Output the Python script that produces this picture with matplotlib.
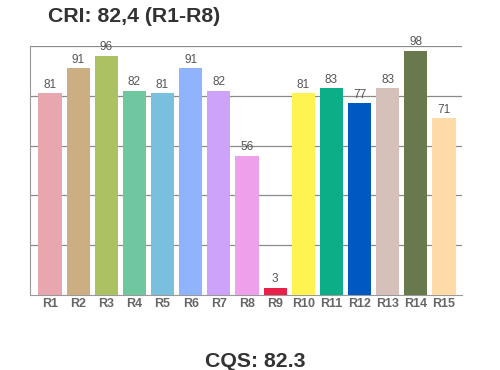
import matplotlib
matplotlib.use('Agg')
import matplotlib.pyplot as plt

labels = ['R1', 'R2', 'R3', 'R4', 'R5', 'R6', 'R7', 'R8',
          'R9', 'R10', 'R11', 'R12', 'R13', 'R14', 'R15']
values = [81, 91, 96, 82, 81, 91, 82, 56, 3, 81, 83, 77, 83, 98, 71]
colors = ['#E8A6AE', '#CBAF82', '#ABC162', '#6EC79F', '#7BBFDE',
          '#8FB3FC', '#CDA3F9', '#EFA0EB', '#E8204A', '#FEF350',
          '#0BAE86', '#0059C3', '#D5C0BA', '#69794E', '#FFDBA7']
cri_title = 'CRI: 82,4 (R1-R8)'
cqs_title = 'CQS: 82.3'

plt.rcParams['font.family'] = ['Liberation Sans', 'DejaVu Sans']

fig = plt.figure(figsize=(5, 3.7), dpi=100)
ax = fig.add_axes([0.06, 0.2027, 0.864, 0.673])

x = range(len(values))
ax.bar(x, values, width=0.82, color=colors, zorder=3)
for i, v in enumerate(values):
    ax.text(i, v + 1, str(v), ha='center', va='bottom', fontsize=8.5, color='#555555', zorder=4)

ax.set_ylim(0, 100)
ax.set_xlim(-0.71, 14.64)
ax.set_yticks([20, 40, 60, 80, 100])
ax.yaxis.grid(True, color='#8a8a8a', linewidth=0.9, zorder=0)
ax.tick_params(axis='y', left=False, labelleft=False)
ax.set_xticks(list(x))
ax.set_xticklabels(labels, fontsize=9, fontweight='bold', color='#666666')
ax.tick_params(axis='x', length=0, pad=2)
for s in ['top', 'right']:
    ax.spines[s].set_visible(False)
ax.spines['left'].set_color('#999999')
ax.spines['bottom'].set_color('#999999')

fig.text(48 / 500, 1 - 16 / 370, cri_title, fontsize=15.3, fontweight='bold', color='#333333', ha='left', va='center')
fig.text(255 / 500, 1 - 352 / 370, cqs_title, fontsize=15.3, fontweight='bold', color='#333333', ha='center', va='top')

fig.savefig('out.png', dpi=100)
